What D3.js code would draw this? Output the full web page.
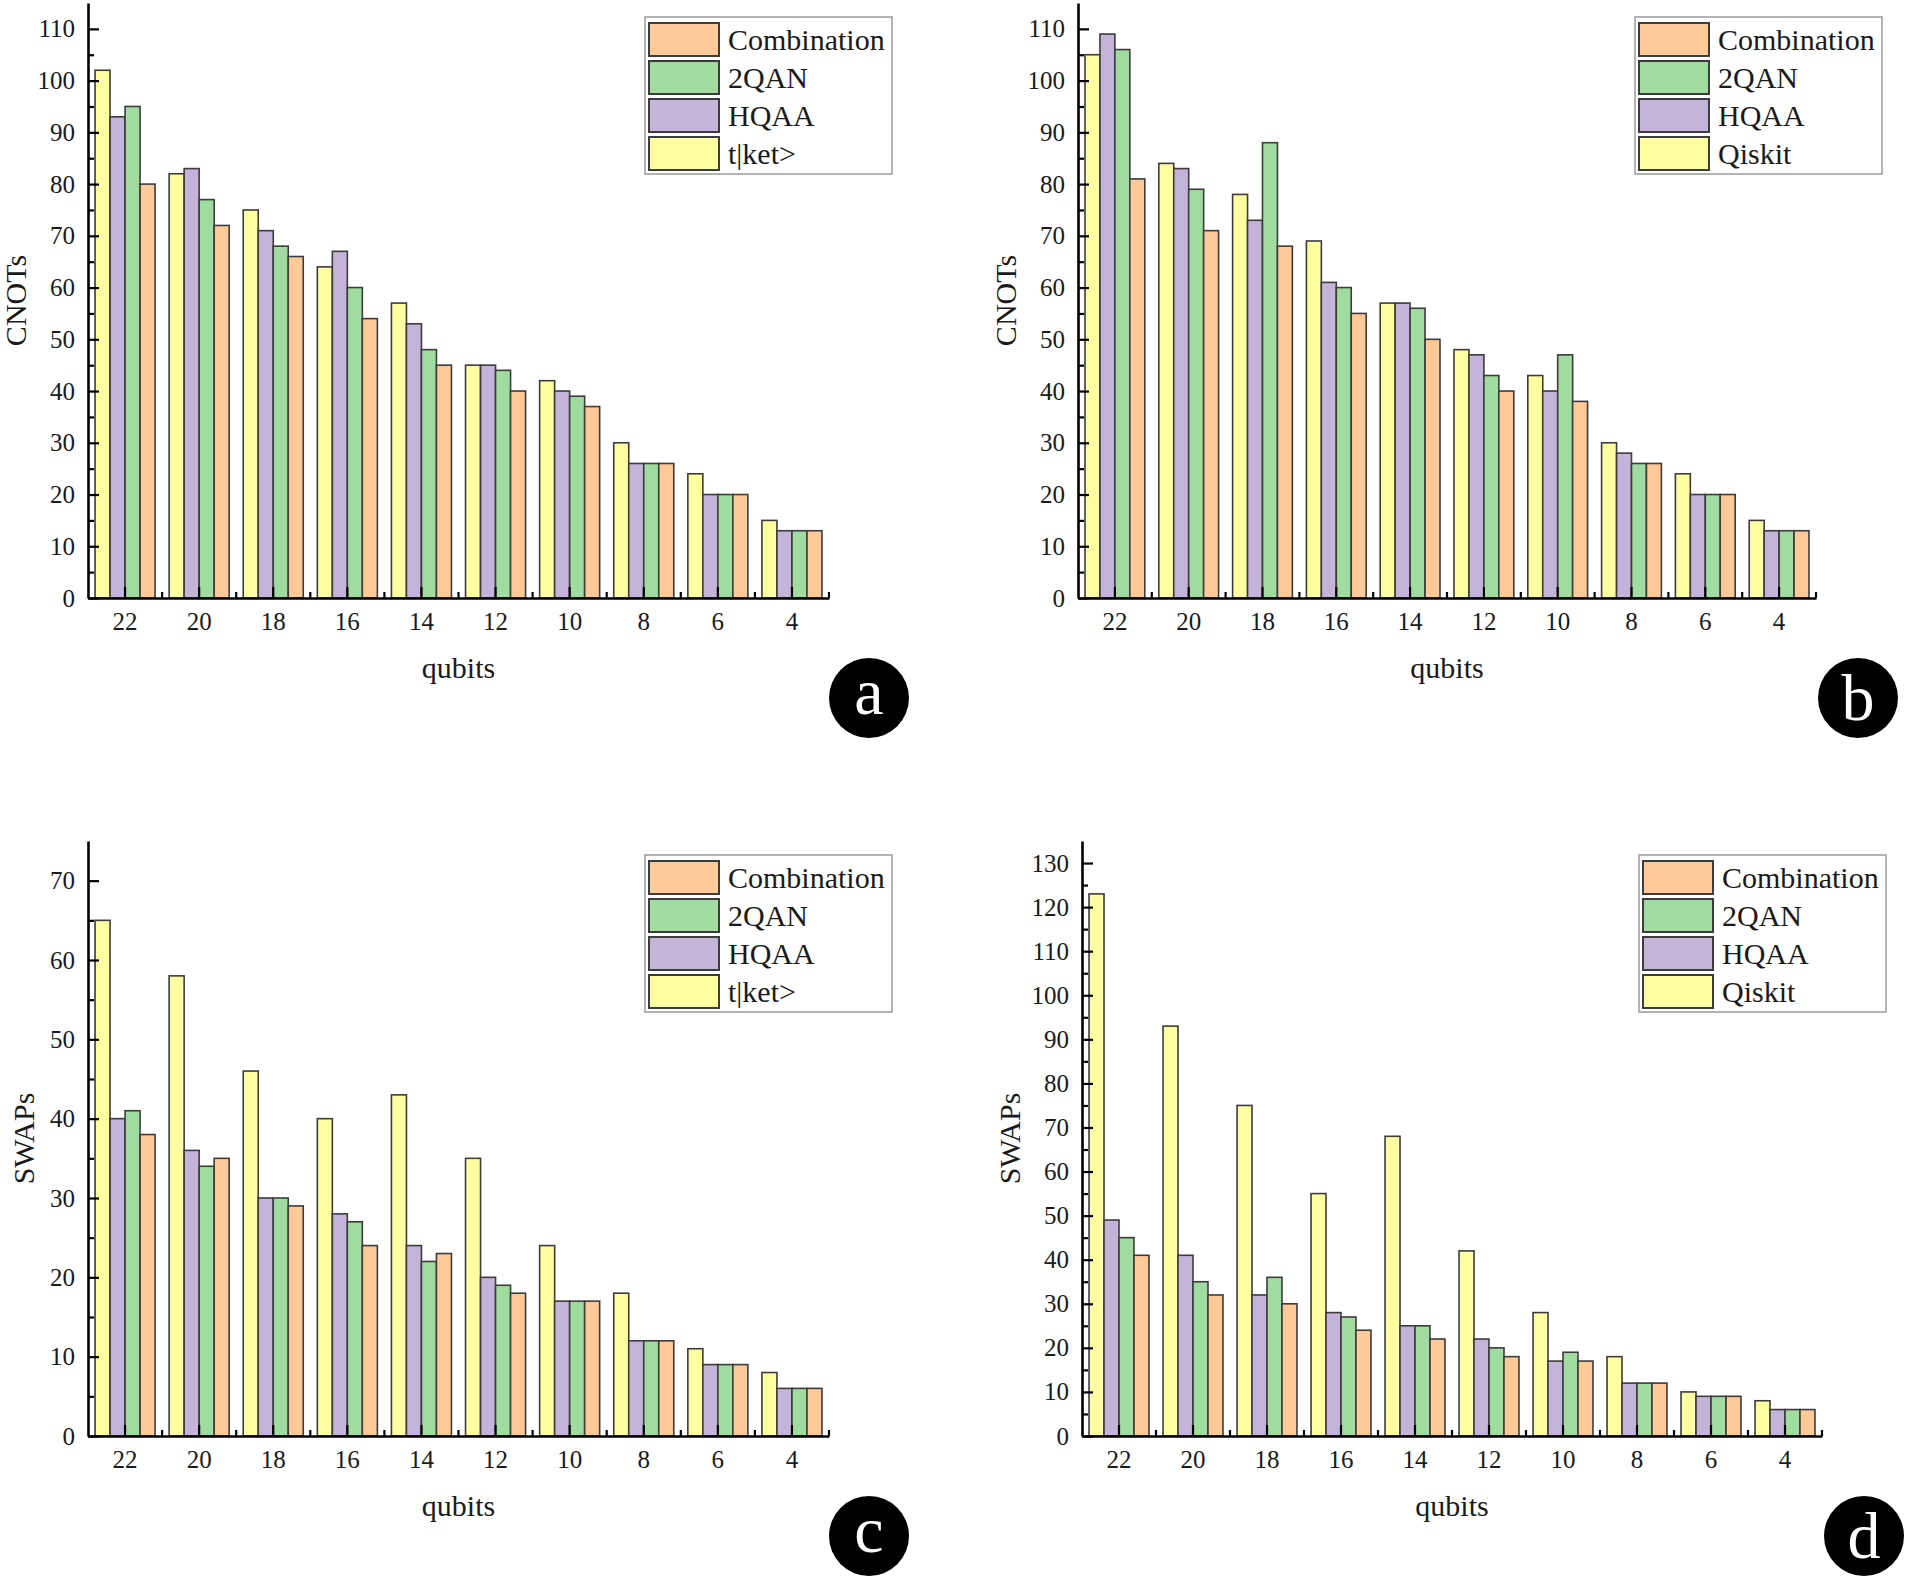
<!DOCTYPE html>
<html lang="en">
<head>
<meta charset="UTF-8">
<script src="https://cdn.jsdelivr.net/npm/d3@7"></script>
<title>CNOTs / SWAPs vs qubits</title>
<style>
  body { margin: 0; background: #fff; }
  text { font-family: "Liberation Serif", "Times New Roman", serif; fill: #1a1a1a; }
</style>
</head>
<body>
<script>
// categories (x axis, left to right)
const qubits = ["22", "20", "18", "16", "14", "12", "10", "8", "6", "4"];

// series names, in bar order inside each group
const namesTket   = ["t|ket>", "HQAA", "2QAN", "Combination"];
const namesQiskit = ["Qiskit", "HQAA", "2QAN", "Combination"];

// (a) CNOTs, t|ket> comparison
const aTket = [102, 82, 75, 64, 57, 45, 42, 30, 24, 15];
const aHqaa = [93, 83, 71, 67, 53, 45, 40, 26, 20, 13];
const a2qan = [95, 77, 68, 60, 48, 44, 39, 26, 20, 13];
const aComb = [80, 72, 66, 54, 45, 40, 37, 26, 20, 13];

// (b) CNOTs, Qiskit comparison
const bQiskit = [105, 84, 78, 69, 57, 48, 43, 30, 24, 15];
const bHqaa   = [109, 83, 73, 61, 57, 47, 40, 28, 20, 13];
const b2qan   = [106, 79, 88, 60, 56, 43, 47, 26, 20, 13];
const bComb   = [81, 71, 68, 55, 50, 40, 38, 26, 20, 13];

// (c) SWAPs, t|ket> comparison
const cTket = [65, 58, 46, 40, 43, 35, 24, 18, 11, 8];
const cHqaa = [40, 36, 30, 28, 24, 20, 17, 12, 9, 6];
const c2qan = [41, 34, 30, 27, 22, 19, 17, 12, 9, 6];
const cComb = [38, 35, 29, 24, 23, 18, 17, 12, 9, 6];

// (d) SWAPs, Qiskit comparison
const dQiskit = [123, 93, 75, 55, 68, 42, 28, 18, 10, 8];
const dHqaa   = [49, 41, 32, 28, 25, 22, 17, 12, 9, 6];
const d2qan   = [45, 35, 36, 27, 25, 20, 19, 12, 9, 6];
const dComb   = [41, 32, 30, 24, 22, 18, 17, 12, 9, 6];

// y tick labels
const ticksCnot  = d3.range(0, 111, 10);
const ticksSwapC = d3.range(0, 71, 10);
const ticksSwapD = d3.range(0, 131, 10);

const fills = ["#ffffa2", "#c5b4da", "#a0dca0", "#ffc998"];

const svg = d3.select("body").append("svg")
    .attr("width", 1905)
    .attr("height", 1578);

svg.append("rect").attr("width", 1905).attr("height", 1578).attr("fill", "#fff");

const panels = [
    { x0: 88,   x1: 829,  y0: 3,   y1: 598,  yMax: 115, ticks: ticksCnot,
      series: [aTket, aHqaa, a2qan, aComb], names: namesTket, yLabel: "CNOTs", letter: "a" },
    { x0: 1078, x1: 1816, y0: 3,   y1: 598,  yMax: 115, ticks: ticksCnot,
      series: [bQiskit, bHqaa, b2qan, bComb], names: namesQiskit, yLabel: "CNOTs", letter: "b" },
    { x0: 88,   x1: 829,  y0: 841, y1: 1436, yMax: 75,  ticks: ticksSwapC,
      series: [cTket, cHqaa, c2qan, cComb], names: namesTket, yLabel: "SWAPs", letter: "c" },
    { x0: 1082, x1: 1822, y0: 841, y1: 1436, yMax: 135, ticks: ticksSwapD,
      series: [dQiskit, dHqaa, d2qan, dComb], names: namesQiskit, yLabel: "SWAPs", letter: "d" }
];

panels.forEach(drawPanel);

function drawPanel(p) {
    const g = svg.append("g");

    const x = d3.scaleBand().domain(qubits).range([p.x0, p.x1])
        .paddingInner(0.19).paddingOuter(0.095);
    const xs = d3.scaleBand().domain(d3.range(4)).range([0, x.bandwidth()]);
    const y = d3.scaleLinear().domain([0, p.yMax]).range([p.y1, p.y0]);

    // bars
    p.series.forEach((vals, si) => {
        g.selectAll(null)
            .data(vals)
            .enter().append("rect")
            .attr("x", (d, i) => x(qubits[i]) + xs(si))
            .attr("y", d => y(d))
            .attr("width", xs.bandwidth())
            .attr("height", d => y(0) - y(d))
            .attr("fill", fills[si])
            .attr("stroke", "#3c3c3c")
            .attr("stroke-width", 1.6);
    });

    // y axis: major ticks inward, minor every 5
    const yMinor = g.append("g")
        .attr("transform", `translate(${p.x0},0)`)
        .call(d3.axisLeft(y).tickValues(d3.range(5, p.yMax, 10)).tickSize(-6).tickFormat(""));
    yMinor.select(".domain").remove();

    const yAxis = g.append("g")
        .attr("transform", `translate(${p.x0},0)`)
        .call(d3.axisLeft(y).tickValues(p.ticks).tickSize(-11).tickSizeOuter(0).tickPadding(13));
    yAxis.selectAll("text").attr("font-size", 25).style("font-family", "Liberation Serif").attr("fill", "#1a1a1a");

    // x axis: major ticks at group centres, minor at group boundaries
    const xAxis = g.append("g")
        .attr("transform", `translate(0,${p.y1})`)
        .call(d3.axisBottom(x).tickSize(-11).tickSizeOuter(0).tickPadding(14));
    xAxis.selectAll("text").attr("font-size", 25).style("font-family", "Liberation Serif").attr("fill", "#1a1a1a");

    g.selectAll(null)
        .data(d3.range(1, qubits.length + 1))
        .enter().append("line")
        .attr("x1", k => p.x0 + k * x.step())
        .attr("x2", k => p.x0 + k * x.step())
        .attr("y1", p.y1)
        .attr("y2", p.y1 - 6)
        .attr("stroke", "#000")
        .attr("stroke-width", 2.2);

    g.selectAll(".domain").attr("stroke", "#000").attr("stroke-width", 2.6);
    g.selectAll(".tick line").attr("stroke", "#000").attr("stroke-width", 2.2);

    // axis titles
    g.append("text")
        .attr("x", (p.x0 + p.x1) / 2)
        .attr("y", p.y1 + 80)
        .attr("text-anchor", "middle")
        .attr("font-size", 30)
        .text("qubits");

    const labelX = p.x0 - (p.yMax > 100 ? 73 : 65);
    g.append("text")
        .attr("transform", `translate(${labelX},${(p.y0 + p.y1) / 2}) rotate(-90)`)
        .attr("text-anchor", "middle")
        .attr("dy", "0.35em")
        .attr("font-size", 30)
        .text(p.yLabel);

    // legend (listed in reverse bar order)
    const lx = p.x0 + 557, ly = p.y0 + 14;
    const lg = g.append("g").attr("transform", `translate(${lx},${ly})`);
    lg.append("rect")
        .attr("width", 247).attr("height", 157)
        .attr("fill", "#fff").attr("stroke", "#9a9a9a").attr("stroke-width", 1.5);

    const order = [3, 2, 1, 0];
    const rows = lg.selectAll(null)
        .data(order)
        .enter().append("g")
        .attr("transform", (d, i) => `translate(4,${6 + i * 38})`);
    rows.append("rect")
        .attr("width", 70).attr("height", 33)
        .attr("fill", d => fills[d])
        .attr("stroke", "#3c3c3c").attr("stroke-width", 2);
    rows.append("text")
        .attr("x", 79).attr("y", 16.5).attr("dy", "0.35em")
        .attr("font-size", 30)
        .text(d => p.names[d]);

    // panel letter
    const cx = p.x1 + (p.x0 > 500 ? 42 : 40), cy = p.y1 + 100;
    g.append("circle").attr("cx", cx).attr("cy", cy).attr("r", 40).attr("fill", "#000");
    g.append("text")
        .attr("x", cx).attr("y", cy)
        .attr("dy", (p.letter === "a" || p.letter === "c") ? "0.24em" : "0.34em")
        .attr("text-anchor", "middle")
        .attr("font-size", 66)
        .style("fill", "#fff")
        .text(p.letter);
}
</script>
</body>
</html>
